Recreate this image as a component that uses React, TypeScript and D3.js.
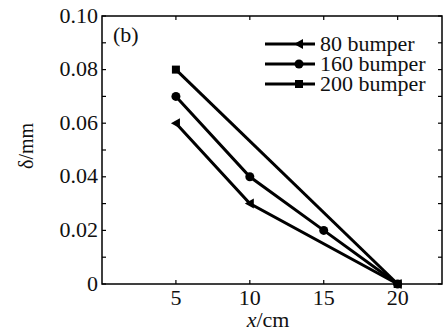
import * as d3 from 'd3';

const xTicks = [5, 10, 15, 20];
const yTicks = [0, 0.02, 0.04, 0.06, 0.08, 0.1];
const yMinor = [0.01, 0.03, 0.05, 0.07, 0.09];

const names = ['80 bumper', '160 bumper', '200 bumper'];
const markers = ['triangle', 'circle', 'square'];
const x80 = [5, 10, 20];
const y80 = [0.06, 0.03, 0];
const x160 = [5, 10, 15, 20];
const y160 = [0.07, 0.04, 0.02, 0];
const x200 = [5, 20];
const y200 = [0.08, 0];

const width = 446;
const height = 332;
const margin = { top: 16, right: 4, bottom: 48, left: 102 };
const serif = { fontFamily: "'Liberation Serif'" };
const stretch = 1.1; // scanned original is slightly wide

// text with a small horizontal stretch, positioned by translate
const T = ({ x, y, anchor = 'start', size = 20, dy = '0', children }: any) => (
  <text transform={`translate(${x},${y}) scale(${stretch},1)`} dy={dy} textAnchor={anchor} fontSize={size} style={serif}>
    {children}
  </text>
);

const App = () => {
  const iw = width - margin.left - margin.right;
  const ih = height - margin.top - margin.bottom;

  const xScale = d3.scaleLinear().domain([0, 23]).range([0, iw]);
  const yScale = d3.scaleLinear().domain([0, 0.1]).range([ih, 0]);

  const series = [
    { xs: x80, ys: y80 },
    { xs: x160, ys: y160 },
    { xs: x200, ys: y200 },
  ];

  const line = d3.line<[number, number]>()
    .x(d => xScale(d[0]))
    .y(d => yScale(d[1]));

  const drawMarker = (kind: string, cx: number, cy: number, key: string) => {
    if (kind === 'circle') return <circle key={key} cx={cx} cy={cy} r={4.5} fill="#000" />;
    if (kind === 'square') return <rect key={key} x={cx - 4} y={cy - 4} width={8} height={8} fill="#000" />;
    return <path key={key} d={`M${cx - 5},${cy} L${cx + 4},${cy - 5} L${cx + 4},${cy + 5} Z`} fill="#000" />;
  };

  const tickLen = 4;

  return (
    <svg width={width} height={height} style={{ position: 'absolute', left: 0, top: 0 }}>
      <rect width={width} height={height} fill="#fff" />
      <g transform={`translate(${margin.left},${margin.top})`} fill="#111">
        {/* frame */}
        <rect x={0} y={0} width={iw} height={ih} fill="none" stroke="#000" strokeWidth={1.5} />

        {/* x ticks, bottom and top */}
        {xTicks.map(t => (
          <g key={'xt' + t}>
            <line x1={xScale(t)} x2={xScale(t)} y1={ih} y2={ih - tickLen} stroke="#000" strokeWidth={1.2} />
            <line x1={xScale(t)} x2={xScale(t)} y1={0} y2={tickLen} stroke="#000" strokeWidth={1.2} />
            <T x={xScale(t)} y={ih + 21} anchor="middle">{t}</T>
          </g>
        ))}

        {/* y ticks, left and right */}
        {yTicks.concat(yMinor).map(t => (
          <g key={'yt' + t}>
            <line x1={0} x2={tickLen} y1={yScale(t)} y2={yScale(t)} stroke="#000" strokeWidth={1.2} />
            <line x1={iw} x2={iw - tickLen} y1={yScale(t)} y2={yScale(t)} stroke="#000" strokeWidth={1.2} />
          </g>
        ))}
        {yTicks.map(t => (
          <T key={'yl' + t} x={-4} y={yScale(t)} dy="0.33em" anchor="end">
            {t === 0 ? '0' : d3.format('.2f')(t)}
          </T>
        ))}

        {/* axis titles */}
        <T x={iw / 2 - 4} y={ih + 43} anchor="middle" size={20}>
          <tspan fontStyle="italic">x</tspan>/cm
        </T>
        <text transform={`translate(${33 - margin.left},${ih / 2 - 4}) rotate(-90)`} textAnchor="middle" fontSize={20} style={serif}>
          δ/mm
        </text>

        <T x={11} y={26}>(b)</T>

        {/* data */}
        {series.map((s, i) => {
          const pts = s.xs.map((v, j) => [v, s.ys[j]] as [number, number]);
          return (
            <g key={'s' + i}>
              <path d={line(pts) || ''} fill="none" stroke="#000" strokeWidth={3} />
              {pts.map((p, j) => drawMarker(markers[i], xScale(p[0]), yScale(p[1]), `m${i}-${j}`))}
            </g>
          );
        })}

        {/* legend */}
        {names.map((n, i) => {
          const ly = 28 + i * 20;
          const lx1 = 163, lx2 = 213;
          return (
            <g key={'lg' + i}>
              <line x1={lx1} x2={lx2} y1={ly} y2={ly} stroke="#000" strokeWidth={3} />
              {drawMarker(markers[i], lx1 + 0.68 * (lx2 - lx1), ly, 'lm' + i)}
              <T x={lx2 + 5} y={ly} dy="0.33em">{n}</T>
            </g>
          );
        })}
      </g>
    </svg>
  );
};

export default App;
